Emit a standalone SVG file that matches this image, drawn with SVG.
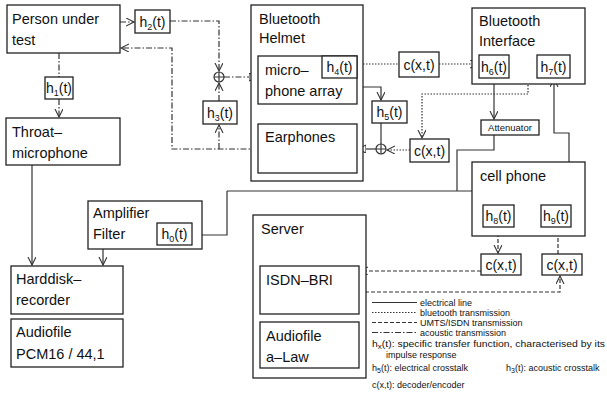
<svg xmlns="http://www.w3.org/2000/svg" width="607" height="403" viewBox="0 0 607 403">
<style>
text{font-family:"Liberation Sans",Arial,sans-serif;fill:#111;}
.t{font-size:14.5px;}
.h{font-size:14px;text-anchor:middle;}
.s{font-size:9px;}
.lg{font-size:9px;}
rect{fill:#fff;stroke:#222;stroke-width:1.3;}
.ln{fill:none;stroke:#333;stroke-width:1.2;}
.dot{stroke-dasharray:1.5 1.5;}
.dash{stroke-dasharray:4 2;}
.dd{stroke-dasharray:6 2 1.5 2;}
.sum{fill:#fff;stroke:#333;stroke-width:1.2;}
</style>
<defs>
<marker id="v" markerUnits="userSpaceOnUse" markerWidth="10" markerHeight="10" refX="8" refY="4" orient="auto">
<path d="M0,0 L8,4 L0,8" fill="none" stroke="#333" stroke-width="1.1" stroke-dasharray="none"/>
</marker>
<marker id="tri" markerUnits="userSpaceOnUse" markerWidth="10" markerHeight="10" refX="8" refY="4" orient="auto">
<path d="M0,0 L8,4 L0,8 Z" fill="#fff" stroke="#333" stroke-width="1.1" stroke-dasharray="none"/>
</marker>
</defs>

<g id="connectors">
<!-- acoustic (dash-dot) -->
<path class="ln dd" d="M120,22 H134" marker-end="url(#v)"/>
<path class="ln dd" d="M170,21 H219 V71" marker-end="url(#v)"/>
<path class="ln dd" d="M224,77 H257" marker-end="url(#tri)"/>
<path class="ln dd" d="M258,149 H172 V48 H121" marker-end="url(#v)"/>
<path class="ln dd" d="M219,149 V125" marker-end="url(#v)"/>
<path class="ln dd" d="M219,101 V83" marker-end="url(#v)"/>
<path class="ln dd" d="M59,53 V77"/>
<path class="ln dd" d="M59,99 V117" marker-end="url(#v)"/>
<!-- bluetooth (dotted) -->
<path class="ln dot" d="M357,64 H399"/>
<path class="ln dot" d="M439,64 H478" marker-end="url(#v)"/>
<path class="ln dot" d="M537,64 H528 V94 H422 V138" marker-end="url(#v)"/>
<path class="ln dot" d="M410,150 H387" marker-end="url(#v)"/>
<!-- electrical (solid) -->
<path class="ln" d="M376,149 H358" marker-end="url(#tri)"/>
<path class="ln" d="M357,87 H381 V100" marker-end="url(#v)"/>
<path class="ln" d="M381,123 V144"/>
<path class="ln" d="M494,78 V119" marker-end="url(#v)"/>
<path class="ln" d="M494,135 V150 H457 V191"/>
<path class="ln" d="M227,191 H498 V204" marker-end="url(#v)"/>
<path class="ln" d="M227,191 V235 H193" marker-end="url(#v)"/>
<path class="ln" d="M569,205 V133 H554 V79" marker-end="url(#v)"/>
<path class="ln" d="M157,238 H103 V265" marker-end="url(#v)"/>
<path class="ln" d="M32,165 V265" marker-end="url(#v)"/>
<path class="ln" d="M280,322 V315" marker-end="url(#v)"/>
<path class="ln" d="M327,314 V321" marker-end="url(#v)"/>
<!-- UMTS/ISDN (dashed) -->
<path class="ln dash" d="M498,227 V253" marker-end="url(#v)"/>
<path class="ln dash" d="M558,254 V228" marker-end="url(#v)"/>
<path class="ln dash" d="M481,271 H360" marker-end="url(#v)"/>
<path class="ln dash" d="M359,292 H560 V276" marker-end="url(#v)"/>
</g>

<g id="sum1"><circle class="sum" cx="219" cy="77" r="5"/><path class="ln" d="M214,77 H224 M219,72 V82"/></g>
<g id="sum2"><circle class="sum" cx="381" cy="149" r="5"/><path class="ln" d="M376,149 H386 M381,144 V154"/></g>

<g id="person"><rect x="7" y="5" width="113" height="48"/><text class="t" x="12" y="24">Person under</text><text class="t" x="12" y="45">test</text></g>
<g id="h2"><rect x="135" y="10" width="35" height="23"/><text class="h" x="152.5" y="27">h<tspan class="s" dy="3">2</tspan><tspan dy="-3">(t)</tspan></text></g>
<g id="h1"><rect x="45" y="77" width="28" height="22"/><text class="h" x="59" y="93">h<tspan class="s" dy="3">1</tspan><tspan dy="-3">(t)</tspan></text></g>
<g id="throat"><rect x="6" y="118" width="114" height="47"/><text class="t" x="12" y="137">Throat–</text><text class="t" x="12" y="158">microphone</text></g>
<g id="h3"><rect x="203" y="101" width="34" height="23"/><text class="h" x="220" y="118">h<tspan class="s" dy="3">3</tspan><tspan dy="-3">(t)</tspan></text></g>

<g id="helmet"><rect x="251" y="5" width="112" height="176"/><text class="t" x="259" y="24">Bluetooth</text><text class="t" x="259" y="43">Helmet</text></g>
<g id="mic"><rect x="258" y="56" width="99" height="48"/><text class="t" x="265" y="75">micro–</text><text class="t" x="265" y="96">phone array</text></g>
<g id="h4"><rect x="322" y="56" width="35" height="22"/><text class="h" x="339.5" y="72">h<tspan class="s" dy="3">4</tspan><tspan dy="-3">(t)</tspan></text></g>
<g id="earphones"><rect x="258" y="124" width="99" height="49"/><text class="t" x="265" y="142">Earphones</text></g>
<g id="h5"><rect x="372" y="101" width="35" height="22"/><text class="h" x="389.5" y="117">h<tspan class="s" dy="3">5</tspan><tspan dy="-3">(t)</tspan></text></g>
<g id="c1"><rect x="399" y="52" width="40" height="25"/><text class="h" x="419" y="70">c(x,t)</text></g>
<g id="c2"><rect x="410" y="139" width="39" height="23"/><text class="h" x="429.5" y="156">c(x,t)</text></g>

<g id="btif"><rect x="472" y="8" width="113" height="76"/><text class="t" x="479" y="26">Bluetooth</text><text class="t" x="479" y="46">Interface</text></g>
<g id="h6"><rect x="479" y="55" width="30" height="23"/><text class="h" x="494" y="72">h<tspan class="s" dy="3">6</tspan><tspan dy="-3">(t)</tspan></text></g>
<g id="h7"><rect x="537" y="55" width="33" height="23"/><text class="h" x="553.5" y="72">h<tspan class="s" dy="3">7</tspan><tspan dy="-3">(t)</tspan></text></g>
<g id="attenuator"><rect x="481" y="120" width="58" height="15"/><text x="510" y="131" style="font-size:9.5px;text-anchor:middle">Attenuator</text></g>

<g id="cellphone"><rect x="472" y="162" width="113" height="74"/><text class="t" x="480" y="181">cell phone</text></g>
<g id="h8"><rect x="483" y="205" width="31" height="22"/><text class="h" x="498.5" y="221">h<tspan class="s" dy="3">8</tspan><tspan dy="-3">(t)</tspan></text></g>
<g id="h9"><rect x="541" y="205" width="30" height="22"/><text class="h" x="556" y="221">h<tspan class="s" dy="3">9</tspan><tspan dy="-3">(t)</tspan></text></g>
<g id="c3"><rect x="481" y="254" width="40" height="21"/><text class="h" x="501" y="270">c(x,t)</text></g>
<g id="c4"><rect x="542" y="254" width="40" height="21"/><text class="h" x="562" y="270">c(x,t)</text></g>

<g id="amp"><rect x="88" y="201" width="114" height="48"/><text class="t" x="93" y="218">Amplifier</text><text class="t" x="93" y="239">Filter</text></g>
<g id="h0"><rect x="157" y="223" width="35" height="22"/><text class="h" x="174.5" y="239">h<tspan class="s" dy="3">0</tspan><tspan dy="-3">(t)</tspan></text></g>
<g id="harddisk"><rect x="11" y="266" width="112" height="48"/><text class="t" x="16" y="284">Harddisk–</text><text class="t" x="16" y="305">recorder</text></g>
<g id="audiofile1"><rect x="11" y="319" width="112" height="48"/><text class="t" x="16" y="337">Audiofile</text><text class="t" x="16" y="359">PCM16 / 44,1</text></g>

<g id="server"><rect x="253" y="215" width="113" height="163"/><text class="t" x="261" y="234">Server</text></g>
<g id="isdn"><rect x="260" y="266" width="99" height="48"/><text class="t" x="266" y="285">ISDN–BRI</text></g>
<g id="audiofile2"><rect x="260" y="322" width="99" height="46"/><text class="t" x="266" y="341">Audiofile</text><text class="t" x="266" y="362">a–Law</text></g>

<g id="legend">
<path class="ln" d="M372,302.5 H417"/><text class="lg" x="420" y="305.5">electrical line</text>
<path class="ln dot" d="M372,312.5 H417"/><text class="lg" x="420" y="315.5">bluetooth transmission</text>
<path class="ln dash" d="M372,322.5 H417"/><text class="lg" x="420" y="325.5">UMTS/ISDN transmission</text>
<path class="ln dd" d="M372,332.5 H417"/><text class="lg" x="420" y="335.5">acoustic transmission</text>
<text class="lg" x="372" y="347" textLength="233" lengthAdjust="spacingAndGlyphs">h<tspan dy="2" style="font-size:7px">x</tspan><tspan dy="-2">(t): specific transfer function, characterised by its</tspan></text>
<text class="lg" x="386" y="358">impulse response</text>
<text class="lg" x="372" y="371">h<tspan dy="2" style="font-size:7px">5</tspan><tspan dy="-2">(t): electrical crosstalk</tspan></text>
<text class="lg" x="506" y="371">h<tspan dy="2" style="font-size:7px">3</tspan><tspan dy="-2">(t): acoustic crosstalk</tspan></text>
<text class="lg" x="372" y="388">c(x,t): decoder/encoder</text>
</g>
</svg>
